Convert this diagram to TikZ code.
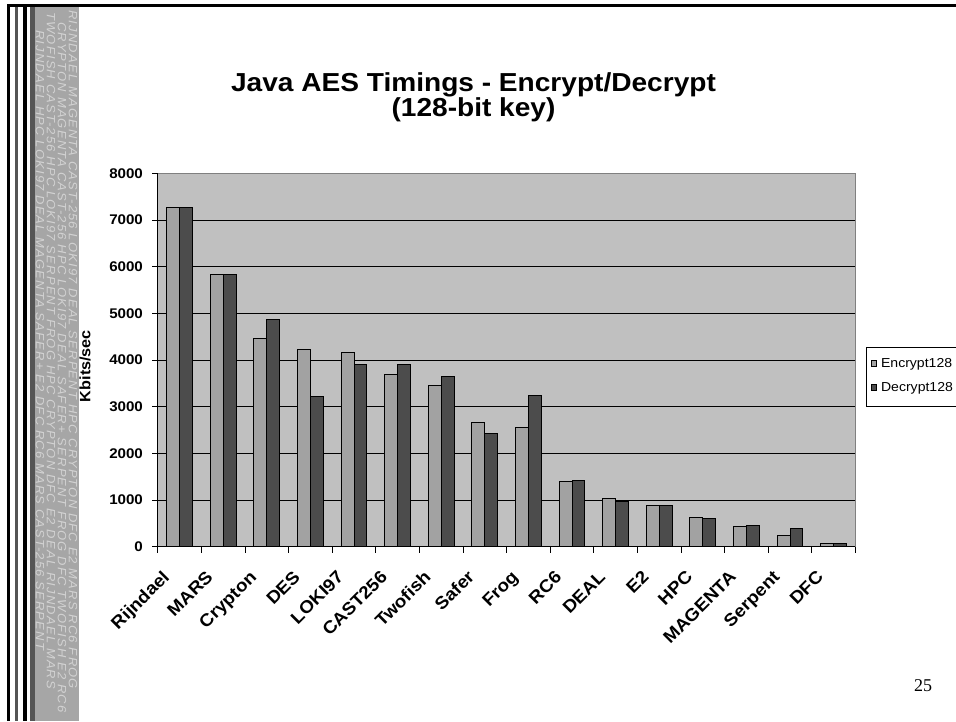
\documentclass[tikz,border=0pt]{standalone}
\usepackage{fontspec}
\setmainfont{Liberation Sans}[FakeStretch=1.08]
\newfontfamily\pagenumfont{Liberation Serif}

\definecolor{plotgray}{HTML}{C0C0C0}
\definecolor{encgray}{HTML}{A2A2A2}
\definecolor{decgray}{HTML}{4C4C4C}
\definecolor{framegray}{HTML}{808080}
\definecolor{panelgray}{HTML}{A6A6A6}
\definecolor{stripgray}{HTML}{555555}
\definecolor{scribblegray}{HTML}{D2D2D2}

\begin{document}
\begin{tikzpicture}[x=1pt,y=-1pt,line width=.8pt,
    encbar/.style={draw=black,fill=encgray},
    decbar/.style={draw=black,fill=decgray},
    ticklabel/.style={font=\bfseries\fontsize{14}{16}\selectfont,anchor=east,inner sep=0pt},
    alglabel/.style={font=\bfseries\fontsize{17.5}{19}\selectfont,anchor=base east,rotate=45,inner sep=0pt},
    keybox/.style={draw=black,line width=.6pt,minimum size=5.5pt,inner sep=0pt},
    keylabel/.style={font=\fontsize{13}{15}\selectfont,anchor=base west,inner sep=0pt},
    scribble/.style={font=\itshape\fontsize{12}{14}\selectfont\addfontfeatures{LetterSpace=10},
        text=scribblegray,rotate=-90,anchor=west,inner sep=0pt}]
    \useasboundingbox (0,0) rectangle (956,721);
    \clip (0,0) rectangle (956,721);

    % side strip with scribbled names
    \fill[panelgray] (35,6) rectangle (79,721);
    \node[scribble] (scrib1) at (73,10) {RIJNDAEL MAGENTA CAST-256 LOKI97 DEAL SERPENT HPC CRYPTON DFC E2 MARS RC6 FROG};
    \node[scribble] (scrib2) at (62,22) {CRYPTON MAGENTA CAST-256 HPC LOKI97 DEAL SAFER+ SERPENT FROG DFC TWOFISH E2 RC6};
    \node[scribble] (scrib3) at (51,12) {TWOFISH CAST-256 HPC LOKI97 SERPENT FROG HPC CRYPTON DFC E2 DEAL RIJNDAEL MARS};
    \node[scribble] (scrib4) at (40,30) {RIJNDAEL HPC LOKI97 DEAL MAGENTA SAFER+ E2 DFC RC6 MARS CAST-256 SERPENT};
    \fill[black] (7,4) rectangle (9.5,721);
    \fill[stripgray] (15,5) rectangle (17.5,721);
    \fill[black] (23.3,5) rectangle (26.7,721);
    \fill[stripgray] (30,5) rectangle (35,721);
    \fill[black] (7,3.8) rectangle (956,6.7);

    % title
    \node[font=\bfseries\fontsize{26}{30}\selectfont,anchor=base] (title) at (473.5,91.7) {Java AES Timings - Encrypt/Decrypt};
    \node[font=\bfseries\fontsize{26}{30}\selectfont,anchor=base] (subtitle) at (473.5,116.3) {(128-bit key)};

    % plot area
    \fill[plotgray] (157.7,173.3) rectangle (855.3,546.7);
    \draw[framegray,line width=1pt] (157.7,173.3) rectangle (855.3,546.7);
    \begin{scope}[shift={(157.7,546.7)},x=43.6pt,y=0.046667pt]
        \foreach \v in {1000,2000,...,7000}
            \draw (0,\v) -- (16,\v);
        \foreach \v in {0,1000,...,8000} {
            \draw (0,\v) -- ++(-6pt,0);
            \node[ticklabel] (tick\v) at ([xshift=-14.4pt]0,\v) {\v};
        }
        \foreach \k in {0,...,16}
            \draw (\k,0) -- ++(0,-6pt);
        \foreach \alg/\enc/\dec [count=\i from 0] in {Rijndael/7280/7280,MARS/5830/5830,
                Crypton/4460/4870,DES/4230/3220,LOKI97/4160/3910,CAST256/3700/3910,
                Twofish/3450/3650,Safer/2670/2430,Frog/2560/3240,RC6/1400/1420,
                DEAL/1040/970,E2/890/890,HPC/630/610,MAGENTA/440/460,
                Serpent/250/390,DFC/70/70} {
            \draw[encbar] (\i+0.206,0) rectangle (\i+0.5,\enc);
            \draw[decbar] (\i+0.5,0) rectangle (\i+0.794,\dec);
            \node[alglabel] (alg\i) at ([shift={(-9pt,-31.3pt)}]\i+0.5,0) {\alg};
        }
        \draw[line width=1pt] (0,8000) -- (0,0) -- (16,0);
    \end{scope}

    % y axis title
    \node[font=\bfseries\fontsize{15}{17}\selectfont,rotate=90] (ylabel) at (85,366) {Kbits/sec};

    % legend
    \draw[line width=.7pt] (866,347.3) rectangle (980,406.7);
    \node[keybox,fill=encgray] (keyenc) at (873.8,363.3) {};
    \node[keylabel] (keyenctext) at (880.7,367.7) {Encrypt128};
    \node[keybox,fill=decgray] (keydec) at (873.8,387.3) {};
    \node[keylabel] (keydectext) at (880.7,391.7) {Decrypt128};

    % slide number
    \node[font=\pagenumfont\fontsize{18}{20}\selectfont,anchor=base] (pagenum) at (923,691.7) {25};
\end{tikzpicture}
\end{document}
